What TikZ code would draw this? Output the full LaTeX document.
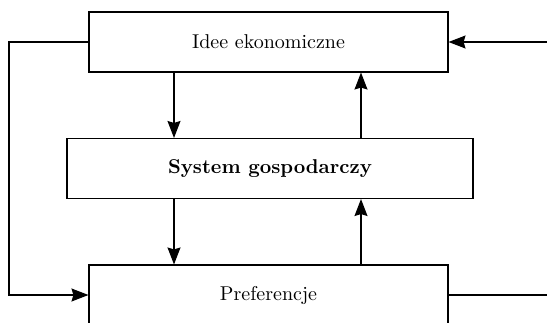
\documentclass[tikz,border=0pt]{standalone}
\usetikzlibrary{arrows.meta}
\begin{document}
\begin{tikzpicture}[x=0.5pt,y=-0.5pt,
  box/.style={draw, line width=0.55pt, minimum width=#1, minimum height=30pt, inner sep=0pt, font=\fontsize{10}{12}\selectfont},
  conn/.style={line width=0.55pt},
  arr/.style={conn, -{Stealth[length=8.5pt,width=6.5pt,inset=1pt]}}]
\useasboundingbox (0,0) rectangle (547,322);
\clip (0,0) rectangle (547,322);
\node[box=179.5pt] (idee) at (268.5,42) {Idee ekonomiczne};
\node[box=203pt, font=\fontsize{10}{12}\selectfont\bfseries] (sys) at (270,168.5) {System gospodarczy};
\node[box=179.5pt] (pref) at (268.5,295) {Preferencje};
\coordinate (xl) at (174,0);
\coordinate (xr) at (361,0);
\coordinate (L1) at (9,42);
\coordinate (L2) at (9,295);
\coordinate (R1) at (547,42);
\coordinate (R2) at (547,295);
\draw[arr] (idee.west) -- (L1) -- (L2) -- (pref.west);
\draw[arr] (R1) -- (idee.east);
\draw[conn] (pref.east) -- (R2);
\draw[arr] (idee.south -| xl) -- (sys.north -| xl);
\draw[arr] (sys.south -| xl) -- (pref.north -| xl);
\draw[arr] (sys.north -| xr) -- (idee.south -| xr);
\draw[arr] (pref.north -| xr) -- (sys.south -| xr);
\end{tikzpicture}
\end{document}
